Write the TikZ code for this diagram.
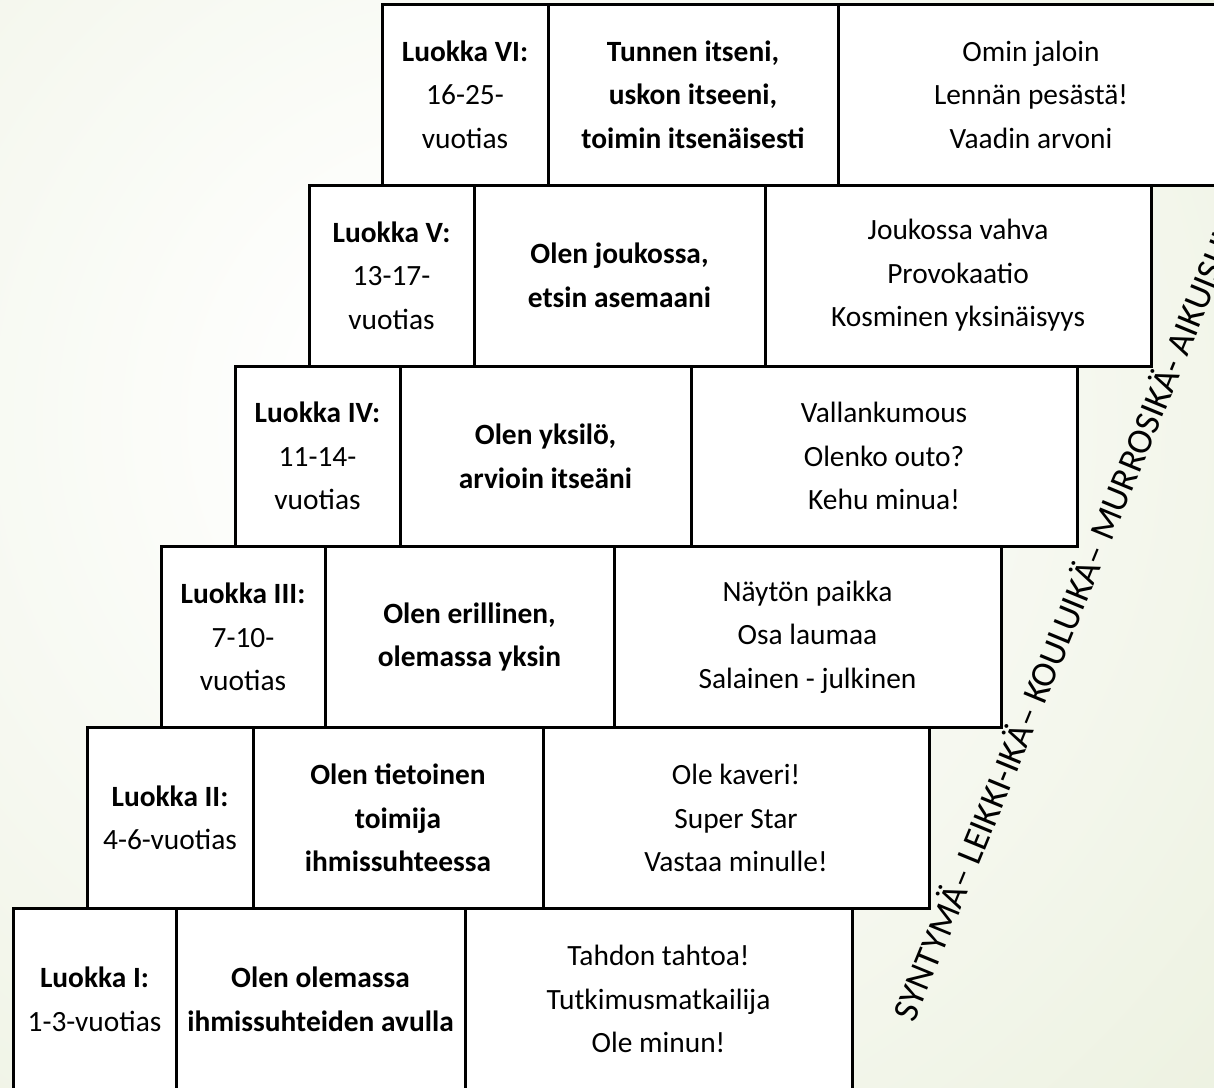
\documentclass[tikz,border=0pt]{standalone}
\usepackage{fontspec}
\setmainfont{Carlito}
\definecolor{bggreen}{RGB}{212,223,184}
\pgfdeclareradialshading{bgrad}{\pgfpoint{0bp}{0bp}}{color(0bp)=(white); color(3bp)=(white); color(50bp)=(bggreen)}
\newcommand{\mycell}[6]{%
  \node[cell, minimum width={#3-#2}, minimum height={#5-#4}] (#1) at ({(#2+#3)/2},{(#4+#5)/2}) {#6};}
\begin{document}
\begin{tikzpicture}[x=1pt,y=-1pt,
  cell/.style={draw=black, line width=3pt, fill=white, rectangle, inner sep=0pt, outer sep=0pt,
    align=center, font=\fontsize{29.4}{43.5}\selectfont},
  agetext/.style={font=\fontsize{36}{40}\selectfont, inner sep=0pt, rotate=67.7, anchor=base west}]
\useasboundingbox (0,0) rectangle (1214,1087);
\begin{scope}
\clip (0,0) rectangle (1214,1087);
\fill[bggreen] (0,0) rectangle (1214,1087);
\shade[shading=bgrad] (480,420) circle (1100);
% Row VI
\mycell{c6a}{382}{548}{4}{185}{\textbf{Luokka VI:}\\16-25-\\vuotias}
\mycell{c6b}{548}{838}{4}{185}{\textbf{Tunnen itseni,}\\\textbf{uskon itseeni,}\\\textbf{toimin itsenäisesti}}
\mycell{c6c}{838}{1224}{4}{185}{Omin jaloin\\Lennän pesästä!\\Vaadin arvoni}
% Row V
\mycell{c5a}{309}{474}{185}{366}{\textbf{Luokka V:}\\13-17-\\vuotias}
\mycell{c5b}{474}{765}{185}{366}{\textbf{Olen joukossa,}\\\textbf{etsin asemaani}}
\mycell{c5c}{765}{1151}{185}{366}{Joukossa vahva\\Provokaatio\\Kosminen yksinäisyys}
% Row IV
\mycell{c4a}{235}{400}{366}{546.5}{\textbf{Luokka IV:}\\11-14-\\vuotias}
\mycell{c4b}{400}{691}{366}{546.5}{\textbf{Olen yksilö,}\\\textbf{arvioin itseäni}}
\mycell{c4c}{691}{1077}{366}{546.5}{Vallankumous\\Olenko outo?\\Kehu minua!}
% Row III
\mycell{c3a}{161}{325}{546.5}{727.5}{\textbf{Luokka III:}\\7-10-\\vuotias}
\mycell{c3b}{325}{614}{546.5}{727.5}{\textbf{Olen erillinen,}\\\textbf{olemassa yksin}}
\mycell{c3c}{614}{1001}{546.5}{727.5}{Näytön paikka\\Osa laumaa\\Salainen - julkinen}
% Row II
\mycell{c2a}{87}{253}{727.5}{908.3}{\textbf{Luokka II:}\\4-6-vuotias}
\mycell{c2b}{253}{543}{727.5}{908.3}{\textbf{Olen tietoinen}\\\textbf{toimija}\\\textbf{ihmissuhteessa}}
\mycell{c2c}{543}{929}{727.5}{908.3}{Ole kaveri!\\Super Star\\Vastaa minulle!}
% Row I
\mycell{c1a}{13}{176}{908.3}{1090}{\textbf{Luokka I:}\\1-3-vuotias}
\mycell{c1b}{176}{465}{908.3}{1090}{\textbf{Olen olemassa}\\\textbf{ihmissuhteiden avulla}}
\mycell{c1c}{465}{852}{908.3}{1090}{Tahdon tahtoa!\\Tutkimusmatkailija\\Ole minun!}
% Diagonal
\node[agetext] (ages) at (914,1024) {SYNTYMÄ– LEIKKI-IKÄ– KOULUIKÄ– MURROSIKÄ- AIKUISUUS};
\end{scope}
\end{tikzpicture}
\end{document}
